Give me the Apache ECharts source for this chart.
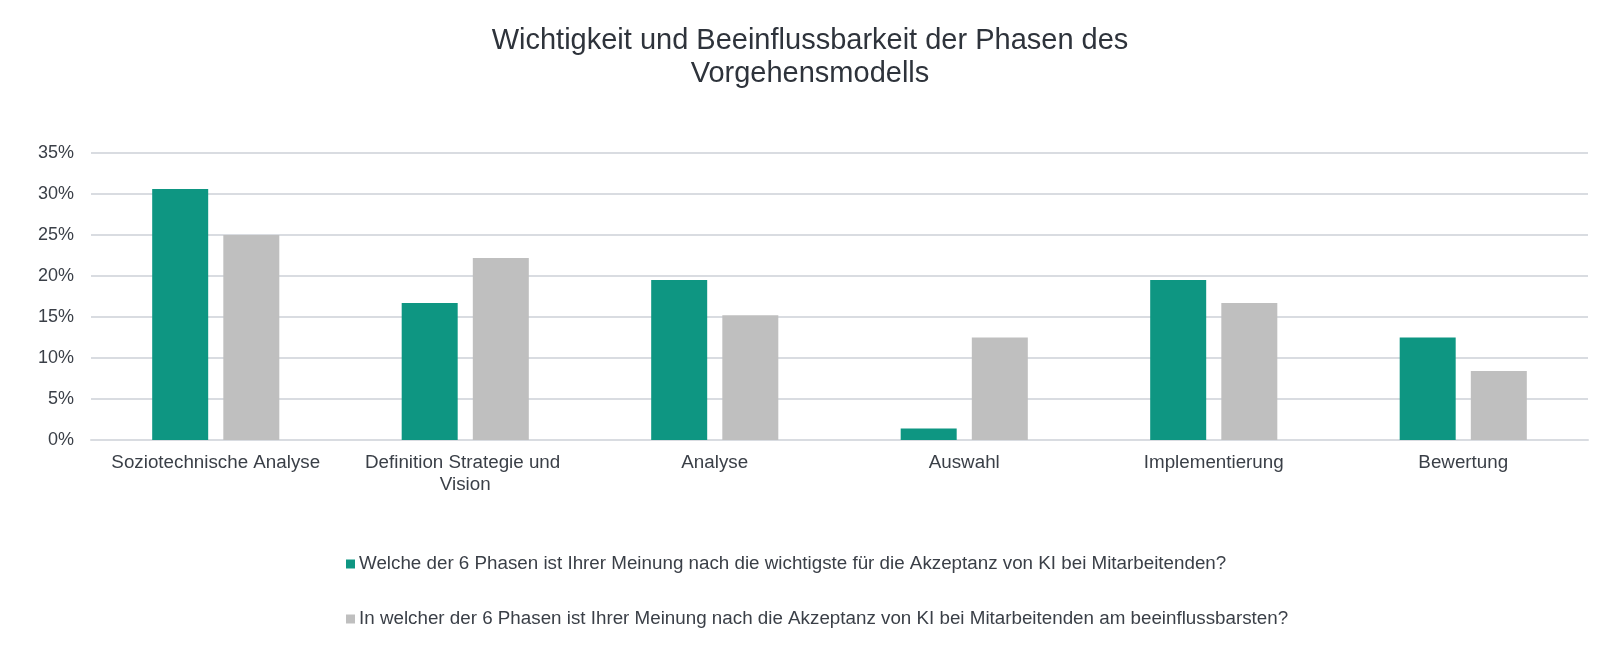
<!DOCTYPE html>
<html>
<head>
<meta charset="utf-8">
<script src="https://cdn.jsdelivr.net/npm/echarts@6/dist/echarts.min.js"></script>
<style>
  html, body { margin: 0; padding: 0; background: #fff; }
  #chart { width: 1620px; height: 657px; }
</style>
</head>
<body>
<div id="chart"></div>
<script>
// Phasen des Vorgehensmodells and the share of answers per question (in %).
const phases = [
  'Soziotechnische Analyse',
  'Definition Strategie und Vision',
  'Analyse',
  'Auswahl',
  'Implementierung',
  'Bewertung',
];
const wichtigste = [30.6, 16.7, 19.5, 1.4, 19.5, 12.5];
const beeinflussbarste = [25.0, 22.2, 15.2, 12.5, 16.7, 8.4];
const seriesNames = [
  'Welche der 6 Phasen ist Ihrer Meinung nach die wichtigste für die Akzeptanz von KI bei Mitarbeitenden?',
  'In welcher der 6 Phasen ist Ihrer Meinung nach die Akzeptanz von KI bei Mitarbeitenden am beeinflussbarsten?',
];

const FONT = '"Liberation Sans", Arial, sans-serif';
const TEXT = '#3a3f47';

const chart = echarts.init(document.getElementById('chart'));
chart.setOption({
  animation: false,
  backgroundColor: '#fff',
  textStyle: { fontFamily: FONT },
  title: {
    text: 'Wichtigkeit und Beeinflussbarkeit der Phasen des\nVorgehensmodells',
    left: 'center',
    top: 24,
    padding: 0,
    textStyle: {
      fontFamily: FONT,
      fontSize: 29,
      fontWeight: 'normal',
      lineHeight: 33,
      color: '#2e333b',
    },
  },
  legend: {
    orient: 'vertical',
    left: 346,
    top: 554,
    padding: 0,
    itemGap: 35,
    itemWidth: 9,
    itemHeight: 9,
    icon: 'rect',
    textStyle: { fontFamily: FONT, fontSize: 18.8, lineHeight: 20, color: TEXT, padding: [0, 0, 0, -1] },
    data: seriesNames,
  },
  grid: { left: 91, right: 32, top: 153, bottom: 217, containLabel: false },
  xAxis: {
    type: 'category',
    data: phases,
    axisLine: { show: true, lineStyle: { color: '#d9dce1', width: 2 } },
    axisTick: { show: false },
    axisLabel: {
      fontFamily: FONT,
      fontSize: 18.8,
      lineHeight: 22,
      color: TEXT,
      margin: 12,
      width: 240,
      overflow: 'break',
      interval: 0,
    },
  },
  yAxis: {
    type: 'value',
    min: 0,
    max: 35,
    interval: 5,
    axisLine: { show: false },
    axisTick: { show: false },
    axisLabel: {
      fontFamily: FONT,
      fontSize: 18,
      color: TEXT,
      margin: 17,
      formatter: v => v + '%',
    },
    splitLine: { lineStyle: { color: '#d9dce1', width: 2 } },
  },
  series: [
    {
      name: seriesNames[0],
      type: 'bar',
      data: wichtigste,
      barWidth: 56,
      barGap: '27%',
      itemStyle: { color: '#0e9682' },
    },
    {
      name: seriesNames[1],
      type: 'bar',
      data: beeinflussbarste,
      barWidth: 56,
      itemStyle: { color: '#bfbfbf' },
    },
  ],
});
</script>
</body>
</html>
